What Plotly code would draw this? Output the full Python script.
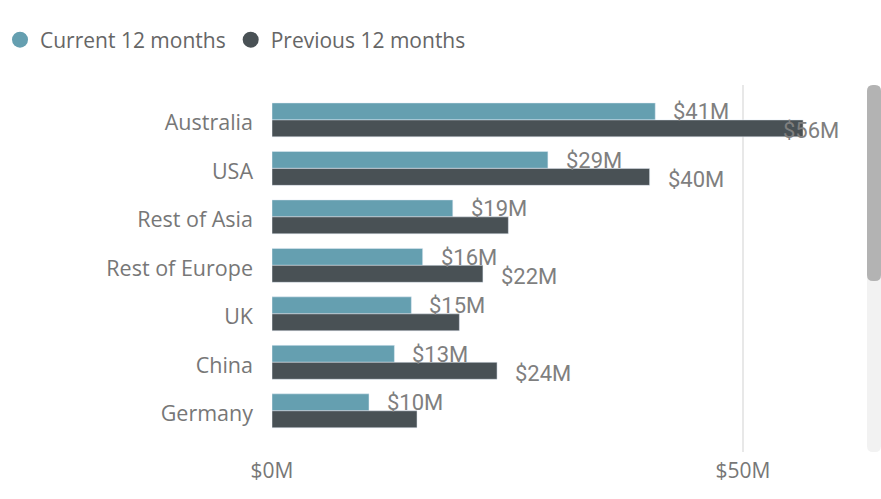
import plotly.graph_objects as go

countries = ["Australia", "USA", "Rest of Asia", "Rest of Europe", "UK", "China", "Germany"]
current = [40.7, 29.3, 19.2, 16.0, 14.8, 13.0, 10.3]
previous = [56.4, 40.1, 25.1, 22.4, 19.9, 23.9, 15.4]
current_label_shown = [True, True, True, True, True, True, True]
previous_label_shown = [True, True, False, True, False, True, False]
x_tick_vals = [0, 50]
x_tick_text = ["$0M", "$50M"]

C_CUR = "#659fb0"
C_PREV = "#495155"
LBL = "#7f7f7f"

W, H = 881, 499
L, R, T, B = 272, 44, 85, 47
XMAX = 60

fig = go.Figure()
fig.add_trace(go.Bar(y=countries, x=current, orientation="h", name="Current 12 months",
                     marker_color=C_CUR, showlegend=False))
fig.add_trace(go.Bar(y=countries, x=previous, orientation="h", name="Previous 12 months",
                     marker_color=C_PREV, showlegend=False))
# legend entries with round symbols
fig.add_trace(go.Scatter(x=[None], y=[None], mode="markers", name="Current 12 months",
                         marker=dict(color=C_CUR, size=20, symbol="circle")))
fig.add_trace(go.Scatter(x=[None], y=[None], mode="markers", name="Previous 12 months",
                         marker=dict(color=C_PREV, size=20, symbol="circle")))

plot_w = W - L - R
px_per_unit = plot_w / XMAX
label_font = dict(family="Roboto", size=22, color=LBL)
LABEL_W = 56
for c, v, show in zip(countries, current, current_label_shown):
    if show:
        fig.add_annotation(x=v, y=c, xref="x", yref="y", text=f"${round(v)}M", showarrow=False,
                           xanchor="left", yanchor="middle", xshift=16, yshift=8, font=label_font)
for c, v, show in zip(countries, previous, previous_label_shown):
    if show:
        shift = 16
        # keep label inside the plot area
        room = (XMAX - v) * px_per_unit
        if room < shift + LABEL_W:
            shift = room - LABEL_W
        fig.add_annotation(x=v, y=c, xref="x", yref="y", text=f"${round(v)}M", showarrow=False,
                           xanchor="left", yanchor="middle", xshift=shift, yshift=-11, font=label_font)

# scrollbar decoration (rounded rects in paper coordinates)
ph = H - T - B
def py(p):
    return (H - B - p) / ph
def pxp(p):
    return (p - L) / plot_w
def rounded(x0p, x1p, y0p, y1p, r):
    x0, x1 = pxp(x0p), pxp(x1p)
    yt, yb = py(y0p), py(y1p)
    rx, ry = r / plot_w, r / ph
    return (f"M {x0+rx} {yt} L {x1-rx} {yt} Q {x1} {yt} {x1} {yt-ry} "
            f"L {x1} {yb+ry} Q {x1} {yb} {x1-rx} {yb} L {x0+rx} {yb} "
            f"Q {x0} {yb} {x0} {yb+ry} L {x0} {yt-ry} Q {x0} {yt} {x0+rx} {yt} Z")
fig.add_shape(type="path", xref="paper", yref="paper", path=rounded(867, 881, 85, 452, 6),
              fillcolor="#f2f2f2", line_width=0, layer="below")
fig.add_shape(type="path", xref="paper", yref="paper", path=rounded(867, 881, 85, 281, 6),
              fillcolor="#b3b3b3", line_width=0)

fig.update_layout(
    width=W, height=H,
    margin=dict(l=L, r=R, t=T, b=B, autoexpand=False),
    paper_bgcolor="white", plot_bgcolor="white",
    barmode="group", bargap=0.3, bargroupgap=0,
    font=dict(family="Open Sans", color="#777777"),
    legend=dict(orientation="h", xref="container", yref="container", x=0, y=1 - 40 / H,
                xanchor="left", yanchor="middle", font=dict(size=21, color="#666666"),
                itemwidth=30, tracegroupgap=0),
    xaxis=dict(range=[0, XMAX], tickvals=x_tick_vals, ticktext=x_tick_text, showgrid=True,
               gridcolor="#e8e8e8", gridwidth=2, zeroline=False, showline=False,
               tickfont=dict(size=21, color="#777777"), ticks="", ticklabelstandoff=4,
               fixedrange=True, automargin=False),
    yaxis=dict(categoryorder="array", categoryarray=countries, range=[6.85, -0.72],
               showgrid=False, zeroline=False, showline=False, ticks="",
               tickfont=dict(size=21.5, color="#777777"), ticklabelstandoff=18,
               ticklabelshift=-3, fixedrange=True, automargin=False),
)

fig.write_html("out.html", config={"displayModeBar": False},
               post_script="document.body.style.margin='0';document.body.style.overflow='hidden';")
